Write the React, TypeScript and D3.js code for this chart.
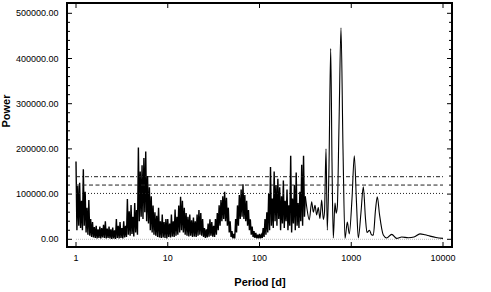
import React from 'react';
import * as d3 from 'd3';

// ---- Data (periods in days, power) ----
const periodsDecade1 = [1.000,1.023,1.047,1.072,1.096,1.122,1.148,1.175,1.202,1.230,1.259,1.288,1.318,1.349,1.380,1.413,1.445,1.479,1.514,1.549,1.585,1.622,1.660,1.698,1.738,1.778,1.820,1.862,1.905,1.950,1.995,2.042,2.089,2.138,2.188,2.239,2.291,2.344,2.399,2.455,2.512,2.570,2.630,2.692,2.754,2.818,2.884,2.951,3.020,3.090,3.162,3.236,3.311,3.388,3.467,3.548,3.631,3.715,3.802,3.890,3.981,4.074,4.169,4.266,4.365,4.467,4.571,4.677,4.786,4.898,5.012,5.129,5.248,5.370,5.495,5.623,5.754,5.888,6.026,6.166,6.310,6.457,6.607,6.761,6.918,7.079,7.244,7.413,7.586,7.762,7.943,8.128,8.318,8.511,8.710,8.913,9.120,9.333,9.550,9.772];
const powerDecade1 = [172000,20000,118000,30000,125000,25000,85000,20000,155000,30000,105000,15000,70000,10000,87000,8000,45000,5000,38000,4000,27000,3000,30000,2000,22000,3000,28000,2000,25000,4000,32000,3000,40000,2000,24000,3000,28000,2000,22000,1000,26000,2000,20000,1000,45000,3000,30000,2000,38000,3000,25000,2000,40000,4000,30000,5000,89000,10000,62000,8000,76000,12000,50000,6000,80000,15000,65000,10000,203000,40000,150000,50000,164000,45000,180000,60000,194000,40000,140000,35000,115000,20000,95000,15000,75000,10000,60000,8000,52000,5000,70000,4000,40000,3000,55000,4000,38000,3000,45000,2000];

const periodsDecade2 = [10.00,10.23,10.47,10.72,10.96,11.22,11.48,11.75,12.02,12.30,12.59,12.88,13.18,13.49,13.80,14.13,14.45,14.79,15.14,15.49,15.85,16.22,16.60,16.98,17.38,17.78,18.20,18.62,19.05,19.50,19.95,20.42,20.89,21.38,21.88,22.39,22.91,23.44,23.99,24.55,25.12,25.70,26.30,26.92,27.54,28.18,28.84,29.51,30.20,30.90,31.62,32.36,33.11,33.88,34.67,35.48,36.31,37.15,38.02,38.90,39.81,40.74,41.69,42.66,43.65,44.67,45.71,46.77,47.86,48.98,50.12,51.29,52.48,53.70,54.95,56.23,57.54,58.88,60.26,61.66,63.10,64.57,66.07,67.61,69.18,70.79,72.44,74.13,75.86,77.62,79.43,81.28,83.18,85.11,87.10,89.13,91.20,93.33,95.50,97.72];
const powerDecade2 = [45000,5000,35000,4000,55000,6000,40000,5000,66000,8000,50000,10000,75000,15000,94000,20000,85000,15000,70000,10000,58000,8000,50000,6000,55000,8000,42000,5000,48000,6000,40000,5000,55000,8000,65000,10000,58000,8000,45000,5000,25000,3000,22000,4000,35000,6000,44000,8000,38000,6000,30000,5000,45000,10000,58000,20000,75000,30000,87000,40000,95000,45000,105000,40000,92000,30000,70000,15000,40000,5000,18000,2000,12000,2000,45000,15000,75000,30000,98000,45000,110000,50000,122000,45000,98000,40000,85000,30000,65000,20000,44000,10000,28000,5000,18000,3000,14000,2000,10000,2000];

const periodsDecade3 = [100.0,102.3,104.7,107.2,109.6,112.2,114.8,117.5,120.2,123.0,125.9,128.8,131.8,134.9,138.0,141.3,144.5,147.9,151.4,154.9,158.5,162.2,166.0,169.8,173.8,177.8,182.0,186.2,190.5,195.0,199.5,204.2,208.9,213.8,218.8,223.9,229.1,234.4,239.9,245.5,251.2,257.0,263.0,269.2,275.4,281.8,288.4,295.1,302.0,309.0,316.2];
const powerDecade3 = [12000,2000,10000,3000,25000,5000,45000,10000,60000,15000,100000,20000,160000,30000,90000,25000,150000,40000,120000,30000,134000,45000,115000,20000,95000,35000,130000,25000,85000,40000,110000,20000,75000,30000,185000,15000,90000,35000,120000,20000,148000,30000,80000,25000,105000,40000,165000,30000,185000,50000,95000];

const periodsLong = [326.9,349,370.6,385.8,402.6,420,437,456,476,496,511,531,548,572,597,617,637,665,685,705,735,773,813,855,906,952,1019,1080,1141,1193,1277,1353,1430,1485,1581,1662,1739,1838,1923,2032,2235,2433,2760,3128,3548,4188,4830,5611,6366,7211,8388,10000];
const powerLong = [72000,43000,83000,60000,75000,54000,70000,46000,87000,44000,60000,200000,20000,160000,422000,170000,3000,80000,58000,72000,250000,468000,200000,2000,38000,12000,90000,185000,80000,3000,60000,116000,45000,15000,20000,10000,9000,65000,94000,55000,9500,3000,11000,2000,5000,3500,5000,12000,10000,7000,4000,2000];

// False-alarm threshold levels
const thresholdLevels = [138500, 120000, 101500];
const thresholdDashes = ['4,2,1,2', '4,2.5', '1,2'];

const xTickValues = [1, 10, 100, 1000, 10000];
const xTickLabels = ['1', '10', '100', '1000', '10000'];
const yMajorTicks = [0, 100000, 200000, 300000, 400000, 500000];
const yMinorTicks = [20000, 40000, 60000, 80000, 120000, 140000, 160000, 180000, 220000, 240000, 260000, 280000, 320000, 340000, 360000, 380000, 420000, 440000, 460000, 480000];

const FONT = '"Liberation Sans", Arial, Helvetica, sans-serif';

export default function App() {
  const W = 491, H = 292;
  const frame = { left: 67, top: 3, right: 452, bottom: 247 };
  const x = d3.scaleLog().domain([1, 10000]).range([76, 443]);
  const y = d3.scaleLinear().domain([0, 500000]).range([239.3, 13.3]);

  const densePeriods = [...periodsDecade1, ...periodsDecade2, ...periodsDecade3];
  const densePowers = [...powerDecade1, ...powerDecade2, ...powerDecade3];
  const dense: [number, number][] = densePeriods.map((p, i) => [p, densePowers[i]]);
  const longData: [number, number][] = [dense[dense.length - 1], ...periodsLong.map((p, i) => [p, powerLong[i]] as [number, number])];

  const lineLinear = d3.line<[number, number]>()
    .x(d => x(d[0]))
    .y(d => y(d[1]));
  const lineSmooth = d3.line<[number, number]>()
    .x(d => x(d[0]))
    .y(d => y(d[1]))
    .curve(d3.curveMonotoneX);

  const fmt = d3.format('.2f');

  return (
    <svg width={W} height={H} style={{ position: 'absolute', left: 0, top: 0, background: '#fff' }}
      fontFamily={FONT}>
      <defs>
        <clipPath id="plotClip">
          <rect x={frame.left} y={frame.top} width={frame.right - frame.left} height={frame.bottom - frame.top} />
        </clipPath>
      </defs>

      {/* zero baseline */}
      <line x1={x(1)} x2={x(10000)} y1={y(0)} y2={y(0)} stroke="#bbb" strokeWidth={1} strokeDasharray="1,1" />

      {/* periodogram */}
      <path d={lineLinear(dense) || ''} fill="none" stroke="#000" strokeWidth={1.4} strokeLinejoin="miter" clipPath="url(#plotClip)" />
      <path d={lineSmooth(longData) || ''} fill="none" stroke="#000" strokeWidth={1.1} clipPath="url(#plotClip)" />

      {/* thresholds */}
      {thresholdLevels.map((v, i) => (
        <line key={i} x1={x(1)} x2={x(10000)} y1={y(v)} y2={y(v)} stroke="#222" strokeWidth={1}
          strokeDasharray={thresholdDashes[i]} />
      ))}

      {/* frame */}
      <rect x={frame.left} y={frame.top} width={frame.right - frame.left} height={frame.bottom - frame.top}
        fill="none" stroke="#000" strokeWidth={2} />

      {/* x ticks */}
      {xTickValues.map((v, i) => (
        <g key={i}>
          <line x1={x(v)} x2={x(v)} y1={frame.bottom} y2={frame.bottom - 5} stroke="#000" strokeWidth={1} />
          <line x1={x(v)} x2={x(v)} y1={frame.top} y2={frame.top + 5} stroke="#000" strokeWidth={1} />
          <text x={x(v)} y={260.5} fontSize={9} textAnchor="middle" fill="#000">{xTickLabels[i]}</text>
        </g>
      ))}

      {/* y ticks */}
      {yMajorTicks.map((v, i) => (
        <g key={'M' + i}>
          <line x1={frame.left} x2={frame.left + 5} y1={y(v)} y2={y(v)} stroke="#000" strokeWidth={1} />
          <line x1={frame.right} x2={frame.right - 5} y1={y(v)} y2={y(v)} stroke="#000" strokeWidth={1} />
          <text x={58.5} y={y(v)} dy="0.35em" fontSize={9} textAnchor="end" fill="#000">{fmt(v)}</text>
        </g>
      ))}
      {yMinorTicks.map((v, i) => (
        <g key={'m' + i}>
          <line x1={frame.left} x2={frame.left + 3} y1={y(v)} y2={y(v)} stroke="#000" strokeWidth={1} />
          <line x1={frame.right} x2={frame.right - 3} y1={y(v)} y2={y(v)} stroke="#000" strokeWidth={1} />
        </g>
      ))}

      {/* axis titles */}
      <text x={260} y={286} fontSize={11} fontWeight="bold" textAnchor="middle" fill="#000">Period [d]</text>
      <text transform="translate(10,111) rotate(-90)" fontSize={11} fontWeight="bold" textAnchor="middle" fill="#000">Power</text>
    </svg>
  );
}
